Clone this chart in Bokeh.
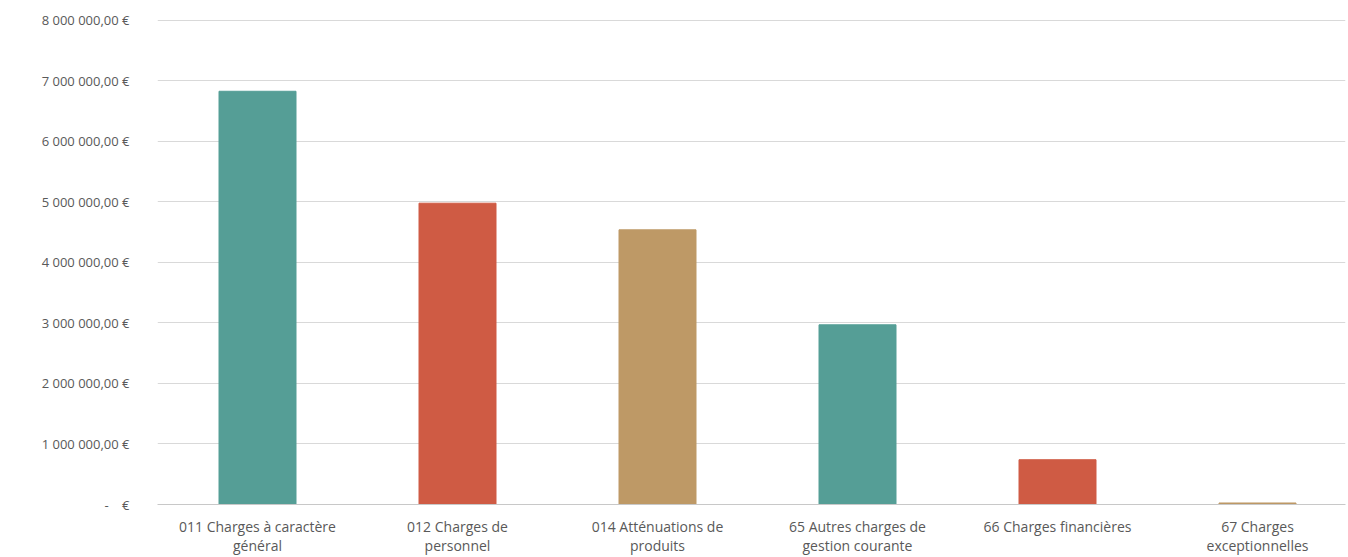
from bokeh.plotting import figure
from bokeh.models import FixedTicker, ColumnDataSource, Range1d
from bokeh.embed import file_html
from bokeh.resources import INLINE

categories = [
    "011 Charges à caractère\ngénéral",
    "012 Charges de\npersonnel",
    "014 Atténuations de\nproduits",
    "65 Autres charges de\ngestion courante",
    "66 Charges financières",
    "67 Charges\nexceptionnelles",
]
values = [6830000, 4980000, 4540000, 2970000, 740000, 25000]
colors = ["#559E96", "#CF5B44", "#BE9966", "#559E96", "#CF5B44", "#BE9966"]
y_ticks = [0, 1000000, 2000000, 3000000, 4000000, 5000000, 6000000, 7000000, 8000000]
y_labels = ["-\u00a0\u00a0\u00a0\u00a0€", "1 000 000,00 €", "2 000 000,00 €", "3 000 000,00 €",
            "4 000 000,00 €", "5 000 000,00 €", "6 000 000,00 €",
            "7 000 000,00 €", "8 000 000,00 €"]

xs = [i + 0.5 for i in range(len(categories))]
src = ColumnDataSource(dict(x=xs, top=values, color=colors))

p = figure(width=1348, height=557, output_backend="svg", toolbar_location=None,
           x_range=Range1d(0, 5.94), y_range=Range1d(0, 8132000),
           min_border_left=157, min_border_right=3, min_border_top=12,
           min_border_bottom=52)
p.vbar(x="x", top="top", width=0.385, color="color", source=src)

p.outline_line_color = None
p.background_fill_color = "white"
p.border_fill_color = "white"

p.xgrid.grid_line_color = None
p.ygrid.grid_line_color = "#d9d9d9"
p.ygrid.grid_line_width = 1

p.yaxis.ticker = FixedTicker(ticks=y_ticks)
p.yaxis.major_label_overrides = {t: l for t, l in zip(y_ticks, y_labels)}
p.yaxis.axis_line_color = None
p.yaxis.major_tick_line_color = None
p.yaxis.minor_tick_line_color = None
p.yaxis.major_label_standoff = 22
p.yaxis.major_label_text_font = "Open Sans"
p.yaxis.major_label_text_font_size = "13px"
p.yaxis.major_label_text_color = "#595959"

p.xaxis.ticker = FixedTicker(ticks=xs)
p.xaxis.major_label_overrides = {x: c for x, c in zip(xs, categories)}
p.xaxis.axis_line_color = "#c8c8c8"
p.xaxis.major_tick_line_color = None
p.xaxis.minor_tick_line_color = None
p.xaxis.major_label_standoff = 6
p.xaxis.major_label_text_font = "Open Sans"
p.xaxis.major_label_text_font_size = "14px"
p.xaxis.major_label_text_color = "#595959"
p.xaxis.major_label_text_line_height = 1.0

open("out.html", "w").write(file_html(p, INLINE))
